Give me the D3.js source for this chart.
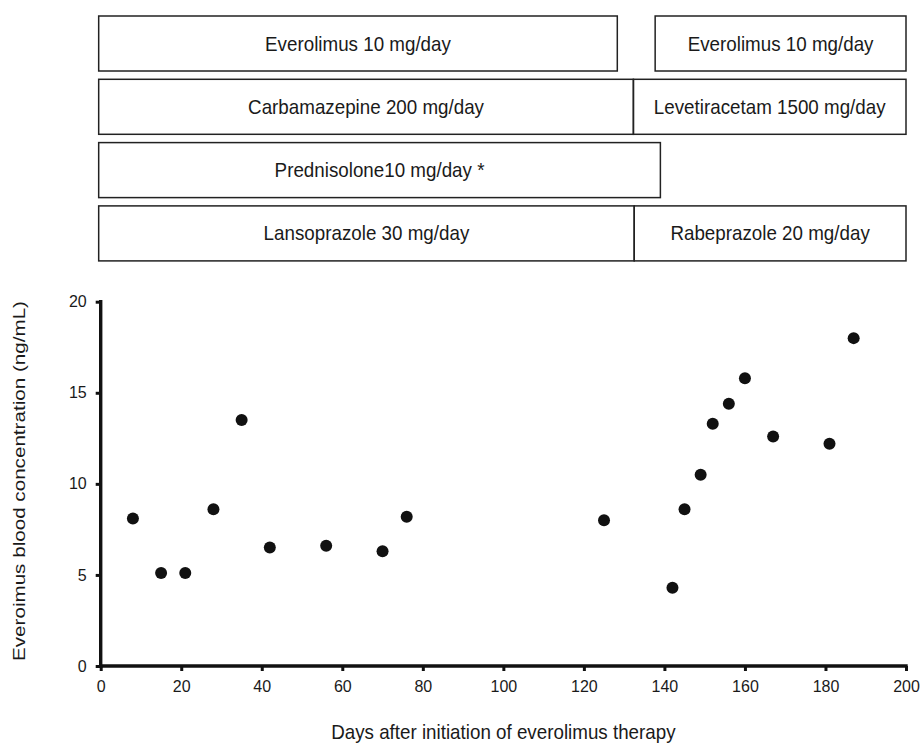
<!DOCTYPE html>
<html>
<head>
<meta charset="utf-8">
<script src="https://cdn.jsdelivr.net/npm/d3@7"></script>
<style>
  html, body { margin: 0; padding: 0; background: #fff; }
  svg { display: block; font-family: "Liberation Sans", Arial, sans-serif; }
</style>
</head>
<body>
<svg id="chart" width="922" height="747"></svg>
<script>
// ---- data ----
const days = [8, 15, 21, 28, 35, 42, 56, 70, 76, 125, 142, 145, 149, 152, 156, 160, 167, 181, 187];
const conc = [8.1, 5.1, 5.1, 8.6, 13.5, 6.5, 6.6, 6.3, 8.2, 8.0, 4.3, 8.6, 10.5, 13.3, 14.4, 15.8, 12.6, 12.2, 18.0];

const xTicks = [0, 20, 40, 60, 80, 100, 120, 140, 160, 180, 200];
const yTicks = [0, 5, 10, 15, 20];

const boxLabels = ["Everolimus 10 mg/day", "Everolimus 10 mg/day",
                   "Carbamazepine 200 mg/day", "Levetiracetam 1500 mg/day",
                   "Prednisolone10 mg/day *",
                   "Lansoprazole 30 mg/day", "Rabeprazole 20 mg/day"];
const boxRow   = [0, 0, 1, 1, 2, 3, 3];
const boxStart = [-0.5, 137.7, -0.5, 132.3, -0.5, -0.5, 132.5];
const boxEnd   = [128.3, 200, 132.3, 200, 139, 132.5, 200];

const xTitle = "Days after initiation of everolimus therapy";
const yTitle = "Everoimus blood concentration (ng/mL)";

// ---- layout ----
const svg = d3.select("#chart");
const pLeft = 100.7, pRight = 906, pTop = 301.7, pBottom = 666;
const ink = "#111";

const x = d3.scaleLinear().domain([0, 200]).range([pLeft, pRight]);
const y = d3.scaleLinear().domain([0, 20]).range([pBottom, pTop]);
const rowY = d3.scaleLinear().domain([0, 1]).range([16, 79.3]);
const boxH = 55;

// ---- drug boxes ----
const boxes = boxLabels.map((t, i) => ({t, r: boxRow[i], s: boxStart[i], e: boxEnd[i]}));
const bg = svg.append("g");
bg.selectAll("rect").data(boxes).join("rect")
  .attr("x", d => x(d.s)).attr("y", d => rowY(d.r))
  .attr("width", d => x(d.e) - x(d.s)).attr("height", boxH)
  .attr("fill", "none").attr("stroke", "#222").attr("stroke-width", 1.5);
bg.selectAll("text").data(boxes).join("text")
  .attr("transform", d => `translate(${(x(d.s) + x(d.e)) / 2},${rowY(d.r) + boxH / 2 + 7}) scale(1,1.12)`)
  .attr("text-anchor", "middle")
  .attr("font-size", 18.8).attr("fill", "#1a1a1a")
  .text(d => d.t);

// ---- axes ----
const xAxis = svg.append("g").attr("transform", `translate(0,${pBottom})`)
  .call(d3.axisBottom(x).tickValues(xTicks).tickSize(5).tickSizeOuter(0).tickPadding(10));
const yAxis = svg.append("g").attr("transform", `translate(${pLeft},0)`)
  .call(d3.axisLeft(y).tickValues(yTicks).tickSize(5).tickSizeOuter(0).tickPadding(9));

for (const a of [xAxis, yAxis]) {
  a.attr("font-size", 16).attr("font-family", "'Liberation Sans', Arial, sans-serif");
  a.selectAll("path.domain").remove();
  a.selectAll("g.tick line").attr("stroke", ink).attr("stroke-width", 3);
  a.selectAll("g.tick text").attr("fill", "#1a1a1a");
}

// heavy axis lines drawn from the scales' ranges
const axLines = svg.append("g").attr("stroke", ink).attr("stroke-width", 3.4).attr("stroke-linecap", "square");
axLines.append("line")
  .attr("x1", x.range()[0]).attr("x2", x.range()[1])
  .attr("y1", y.range()[0]).attr("y2", y.range()[0]);
axLines.append("line")
  .attr("x1", x.range()[0]).attr("x2", x.range()[0])
  .attr("y1", y.range()[0]).attr("y2", y.range()[1]);

// ---- points ----
svg.append("g").selectAll("circle").data(days.map((d, i) => [d, conc[i]])).join("circle")
  .attr("cx", d => x(d[0])).attr("cy", d => y(d[1]))
  .attr("r", 6).attr("fill", ink);

// ---- titles ----
svg.append("text")
  .attr("transform", `translate(${(pLeft + pRight) / 2},${739}) scale(1,1.12)`)
  .attr("text-anchor", "middle").attr("font-size", 18.8).attr("fill", "#1a1a1a")
  .text(xTitle);
svg.append("text")
  .attr("transform", `translate(25,${481}) scale(1,1.2) rotate(-90)`)
  .attr("text-anchor", "middle").attr("font-size", 17.2).attr("fill", "#1a1a1a")
  .text(yTitle);
</script>
</body>
</html>
